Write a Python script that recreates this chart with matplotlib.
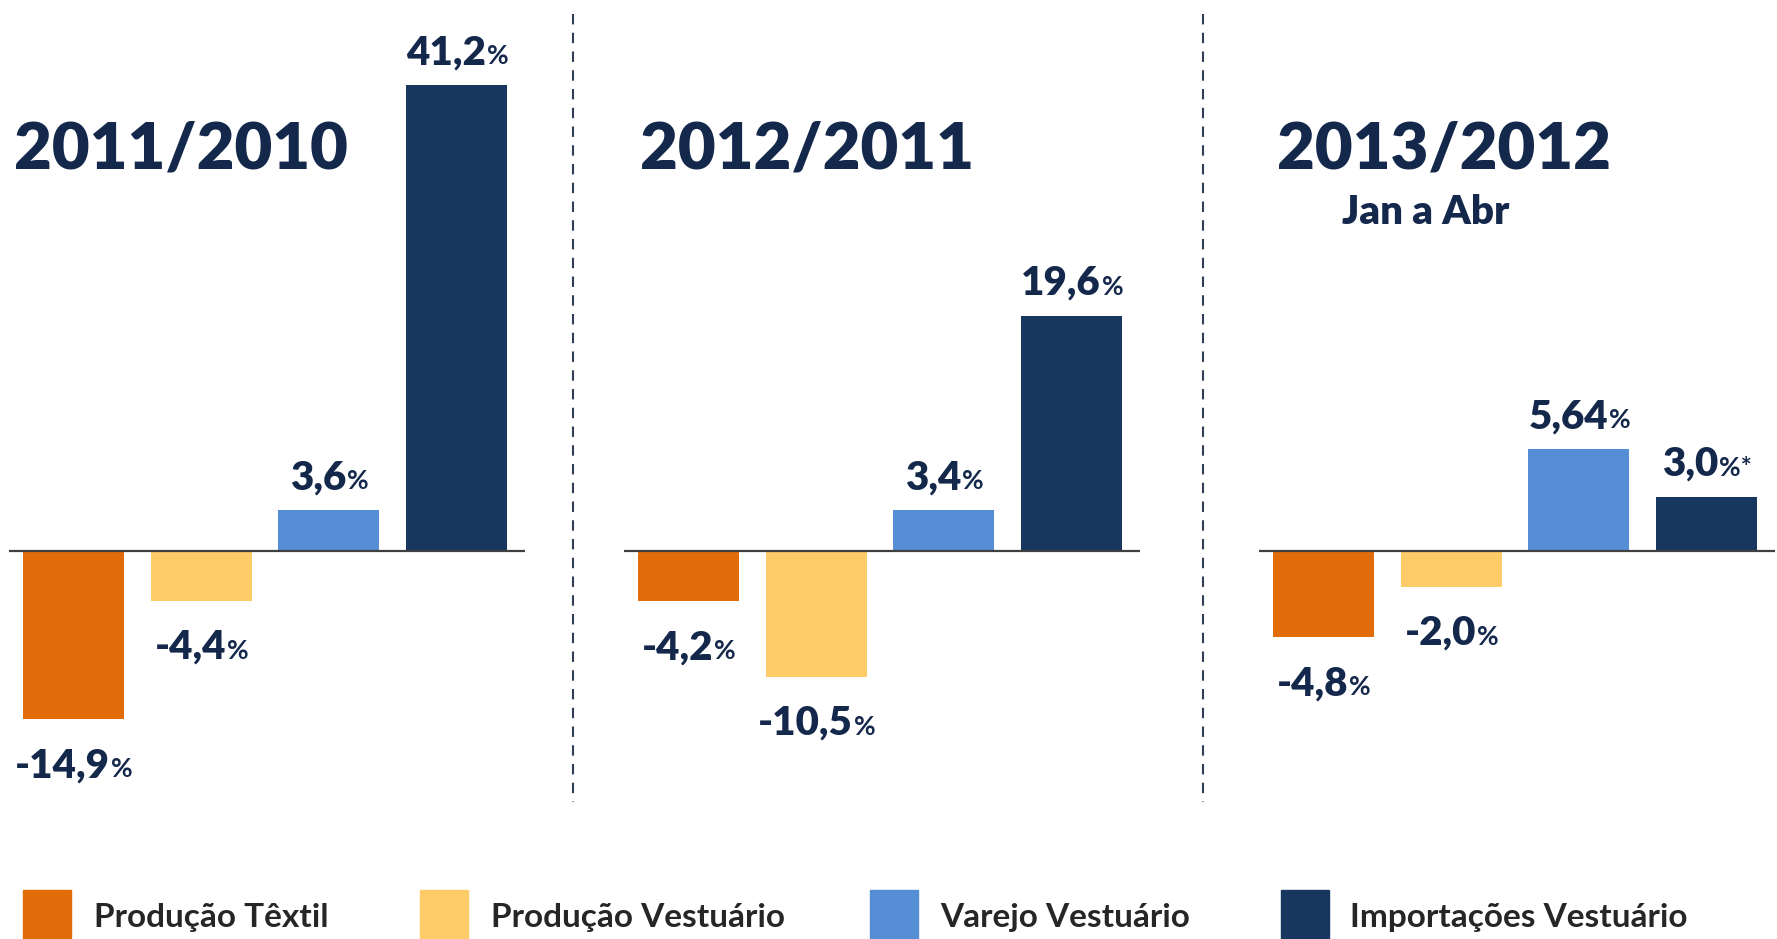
import matplotlib
matplotlib.use("Agg")
import matplotlib.pyplot as plt
from matplotlib.patches import Rectangle
from matplotlib.lines import Line2D

# ---------------- data ----------------
series = ["Produção Têxtil", "Produção Vestuário", "Varejo Vestuário", "Importações Vestuário"]
colors = ["#E36C0A", "#FECB69", "#558ED5", "#17375E"]
periods = ["2011/2010", "2012/2011", "2013/2012"]
subtitles = ["", "", "Jan a Abr"]
values_2011 = [-14.9, -4.4, 3.6, 41.2]
values_2012 = [-4.2, -10.5, 3.4, 19.6]
values_2013 = [-4.8, -2.0, 5.64, 3.0]
labels_2011 = ["-14,9", "-4,4", "3,6", "41,2"]
labels_2012 = ["-4,2", "-10,5", "3,4", "19,6"]
labels_2013 = ["-4,8", "-2,0", "5,64", "3,0"]
suffix_2013 = ["%", "%", "%", "%*"]

# ---------------- layout ----------------
W, H = 1777, 939
DPI = 100
fig = plt.figure(figsize=(W / DPI, H / DPI), dpi=DPI)
fig.patch.set_facecolor("white")

FONT = "Lato"
TXT = "#14284B"
zero_px = 551
panel_left = [9, 624, 1259]
panel_width = 516
px_per_unit = [11.3, 12.0, 18.0]
title_x = [14, 640, 1277]
title_y = 150


def fx(x):
    return x / W


def fy(y):
    return 1 - y / H


panels = [
    (values_2011, labels_2011, ["%"] * 4),
    (values_2012, labels_2012, ["%"] * 4),
    (values_2013, labels_2013, suffix_2013),
]

axes = []
for i, (vals, labs, sufs) in enumerate(panels):
    ax = fig.add_axes([fx(panel_left[i]), 0, fx(panel_width), 1])
    s = px_per_unit[i]
    ax.set_ylim(-(H - zero_px) / s, zero_px / s)
    ax.set_xlim(-0.505, 3.535)
    ax.axis("off")
    xs = list(range(len(vals)))
    ax.bar(xs, vals, width=0.79, color=colors, zorder=2)
    ax.axhline(0, color="#404040", lw=1.6, zorder=3)
    axes.append((ax, xs, vals, labs, sufs, s))

    fig.text(fx(title_x[i]), fy(title_y), periods[i], fontsize=47, fontweight="heavy",
             family=FONT, color=TXT, ha="left", va="center")
    if subtitles[i]:
        fig.text(fx(1426), fy(212), subtitles[i], fontsize=29, fontweight="heavy",
                 family=FONT, color=TXT, ha="center", va="center")

# value labels with smaller percent sign
fig.canvas.draw()
renderer = fig.canvas.get_renderer()
pt_per_px = 72 / DPI
for ax, xs, vals, labs, sufs, s in axes:
    for x, v, lab, suf in zip(xs, vals, labs, sufs):
        if v >= 0:
            dy = 21
        else:
            dy = -58
        t1 = ax.annotate(lab, xy=(x, v), xytext=(0, dy * pt_per_px), textcoords="offset points",
                         ha="right", va="baseline", fontsize=29, fontweight="heavy",
                         family=FONT, color=TXT)
        t2 = ax.annotate(suf, xy=(x, v), xytext=(0, dy * pt_per_px), textcoords="offset points",
                         ha="left", va="baseline", fontsize=19, fontweight="bold",
                         family=FONT, color=TXT)
        w1 = t1.get_window_extent(renderer).width
        w2 = t2.get_window_extent(renderer).width
        off = (-(w1 + w2) / 2 + w1) * pt_per_px
        t1.set_position((off, dy * pt_per_px))
        t2.set_position((off + 1 * pt_per_px, dy * pt_per_px))

# dashed separators
for xsep in [573, 1203]:
    fig.add_artist(Line2D([fx(xsep), fx(xsep)], [fy(14), fy(802)], transform=fig.transFigure,
                          color="#2F3E55", lw=1.5, linestyle=(0, (5, 4))))

# legend
leg_sq_x = [23, 420, 870, 1281]
leg_txt_x = [94, 491, 940, 1350]
for i, name in enumerate(series):
    fig.add_artist(Rectangle((fx(leg_sq_x[i]), fy(939)), fx(48), 49 / H,
                             transform=fig.transFigure, color=colors[i]))
    fig.text(fx(leg_txt_x[i]), fy(917), name, fontsize=24, family=FONT, fontweight="bold",
             color="#262626", ha="left", va="center")

fig.savefig("out.png", dpi=DPI, facecolor="white")
